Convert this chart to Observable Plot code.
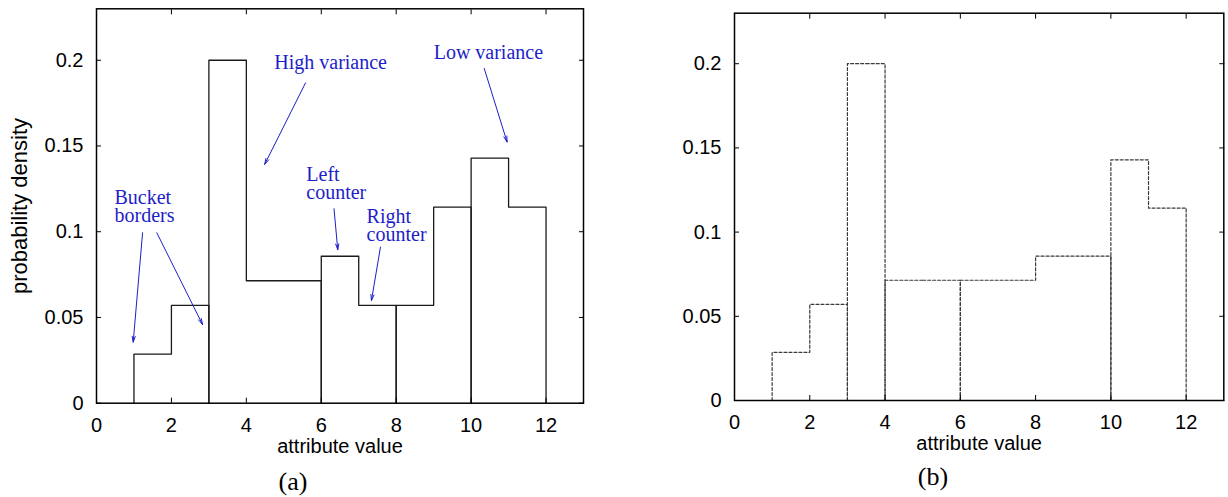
<!DOCTYPE html>
<html>
<head>
<meta charset="utf-8">
<script src="https://cdn.jsdelivr.net/npm/d3@7"></script>
<script src="https://cdn.jsdelivr.net/npm/@observablehq/plot@0.6"></script>
<style>
  body { margin: 0; background: #fff; width: 1228px; height: 497px; position: relative; overflow: hidden; }
  .panel { position: absolute; top: 0; }
  .caption {
    position: absolute; transform: translate(-50%, -50%); white-space: nowrap;
    font-family: "Liberation Serif", "Times New Roman", serif; font-size: 26px; color: #000;
  }
</style>
</head>
<body>
<div id="panelA" class="panel" style="left:0"></div>
<div id="panelB" class="panel" style="left:614px"></div>
<div class="caption" style="left:293px; top:482px">(a)</div>
<div class="caption" style="left:933px; top:477px">(b)</div>
<script>
// Histogram (a): bucket borders, split points and the density of each half-bucket
const bordersA = [1, 3, 6, 8, 10, 12];
const splitsA = [2, 4, 7, 9, 11];
const leftDensityA = [0.0286, 0.2, 0.0857, 0.0571, 0.1429];
const rightDensityA = [0.0571, 0.0714, 0.0571, 0.1143, 0.1143];

// Histogram (b)
const bordersB = [1, 3, 4, 6, 10, 12];
const splitsB = [2, 3.5, 5, 8, 11];
const leftDensityB = [0.0286, 0.2, 0.0714, 0.0714, 0.1429];
const rightDensityB = [0.0571, 0.2, 0.0714, 0.0857, 0.1143];

// Axes
const xTicks = [0, 2, 4, 6, 8, 10, 12];
const yTicks = [0, 0.05, 0.1, 0.15, 0.2];
const xDomain = [0, 13];
const yDomain = [0, 0.23];
const xLabel = "attribute value";
const yLabel = "probability density";

// Annotations on histogram (a): one-line titles (centred) and two-line notes (left aligned)
const titleText = ["High variance", "Low variance"];
const titleX = [6.25, 10.46];
const titleY = [0.1988, 0.2043];
const noteText = ["Left\ncounter", "Right\ncounter", "Bucket\nborders"];
const noteX = [5.6, 7.21, 0.48];
const noteY = [0.1279, 0.1032, 0.1142];
const arrowX1 = [5.58, 10.35, 6.34, 7.58, 1.23, 1.61];
const arrowY1 = [0.1868, 0.1952, 0.1134, 0.091, 0.0994, 0.0994];
const arrowX2 = [4.49, 10.96, 6.44, 7.34, 0.98, 2.83];
const arrowY2 = [0.1393, 0.1523, 0.0895, 0.0599, 0.0356, 0.0459];

const noteColor = "#1e1ec8";
const sans = "'Liberation Sans', Arial, Helvetica, sans-serif";
const serif = "'Liberation Serif', 'Times New Roman', serif";

// Outline of every bucket: up the left border, across both halves, down the right border
function outline(borders, splits, left, right) {
  const pts = [];
  splits.forEach((m, i) => {
    const l = borders[i], r = borders[i + 1];
    pts.push(
      {b: i, x: l, y: 0}, {b: i, x: l, y: left[i]}, {b: i, x: m, y: left[i]},
      {b: i, x: m, y: right[i]}, {b: i, x: r, y: right[i]}, {b: i, x: r, y: 0}
    );
  });
  return pts;
}

function axes() {
  return [
    Plot.axisX({ticks: xTicks, anchor: "bottom", tickSize: 0, tickPadding: 14.5, tickFormat: d => String(d), label: null, fontSize: 20}),
    Plot.axisX({ticks: xTicks, anchor: "bottom", tickSize: -5, tickFormat: () => "", label: null}),
    Plot.axisX({ticks: xTicks, anchor: "top", tickSize: -5, tickFormat: () => "", label: null}),
    Plot.axisY({ticks: yTicks, anchor: "left", tickSize: 0, tickPadding: 13, tickFormat: d => String(d), label: null, fontSize: 20}),
    Plot.axisY({ticks: yTicks, anchor: "left", tickSize: -5, tickFormat: () => "", label: null}),
    Plot.axisY({ticks: yTicks, anchor: "right", tickSize: -5, tickFormat: () => "", label: null}),
    Plot.text([xLabel], {text: d => d, frameAnchor: "bottom", lineAnchor: "middle", textAnchor: "middle", dy: 43, fontSize: 20, fill: "#000"})
  ];
}

const titles = titleText.map((t, i) => ({t, x: titleX[i], y: titleY[i]}));
const notes = noteText.map((t, i) => ({t, x: noteX[i], y: noteY[i]}));
const arrows = arrowX1.map((x1, i) => ({x1, y1: arrowY1[i], x2: arrowX2[i], y2: arrowY2[i]}));

const chartA = Plot.plot({
  width: 610, height: 460,
  marginLeft: 96, marginRight: 27, marginTop: 8.3, marginBottom: 57.3,
  x: {domain: xDomain},
  y: {domain: yDomain},
  style: {fontFamily: sans, background: "#fff", color: "#000", overflow: "visible"},
  marks: [
    Plot.line(outline(bordersA, splitsA, leftDensityA, rightDensityA),
      {x: "x", y: "y", z: "b", stroke: "#1a1a1a", strokeWidth: 1.3}),
    Plot.arrow(arrows, {x1: "x1", y1: "y1", x2: "x2", y2: "y2", stroke: noteColor, strokeWidth: 1, headLength: 9, headAngle: 30}),
    Plot.text(titles, {x: "x", y: "y", text: "t", fill: noteColor, fontFamily: serif, fontSize: 20}),
    Plot.text(notes, {x: "x", y: "y", text: "t", textAnchor: "start", lineHeight: 0.9, fill: noteColor, fontFamily: serif, fontSize: 20}),
    ...axes(),
    Plot.text([yLabel], {text: d => d, frameAnchor: "left", textAnchor: "middle", lineAnchor: "middle", rotate: -90, dx: -77, fontSize: 22, fill: "#000"}),
    Plot.frame({stroke: "#000", strokeWidth: 1.5})
  ]
});
document.getElementById("panelA").append(chartA);

const chartB = Plot.plot({
  width: 614, height: 460,
  marginLeft: 120, marginRight: 4.7, marginTop: 12.7, marginBottom: 60,
  x: {domain: xDomain},
  y: {domain: yDomain},
  style: {fontFamily: sans, background: "#fff", color: "#000", overflow: "visible"},
  marks: [
    Plot.line(outline(bordersB, splitsB, leftDensityB, rightDensityB),
      {x: "x", y: "y", z: "b", stroke: "#3a3a3a", strokeWidth: 1.2, strokeDasharray: "3,2"}),
    ...axes(),
    Plot.frame({stroke: "#000", strokeWidth: 1.5})
  ]
});
document.getElementById("panelB").append(chartB);
</script>
</body>
</html>
